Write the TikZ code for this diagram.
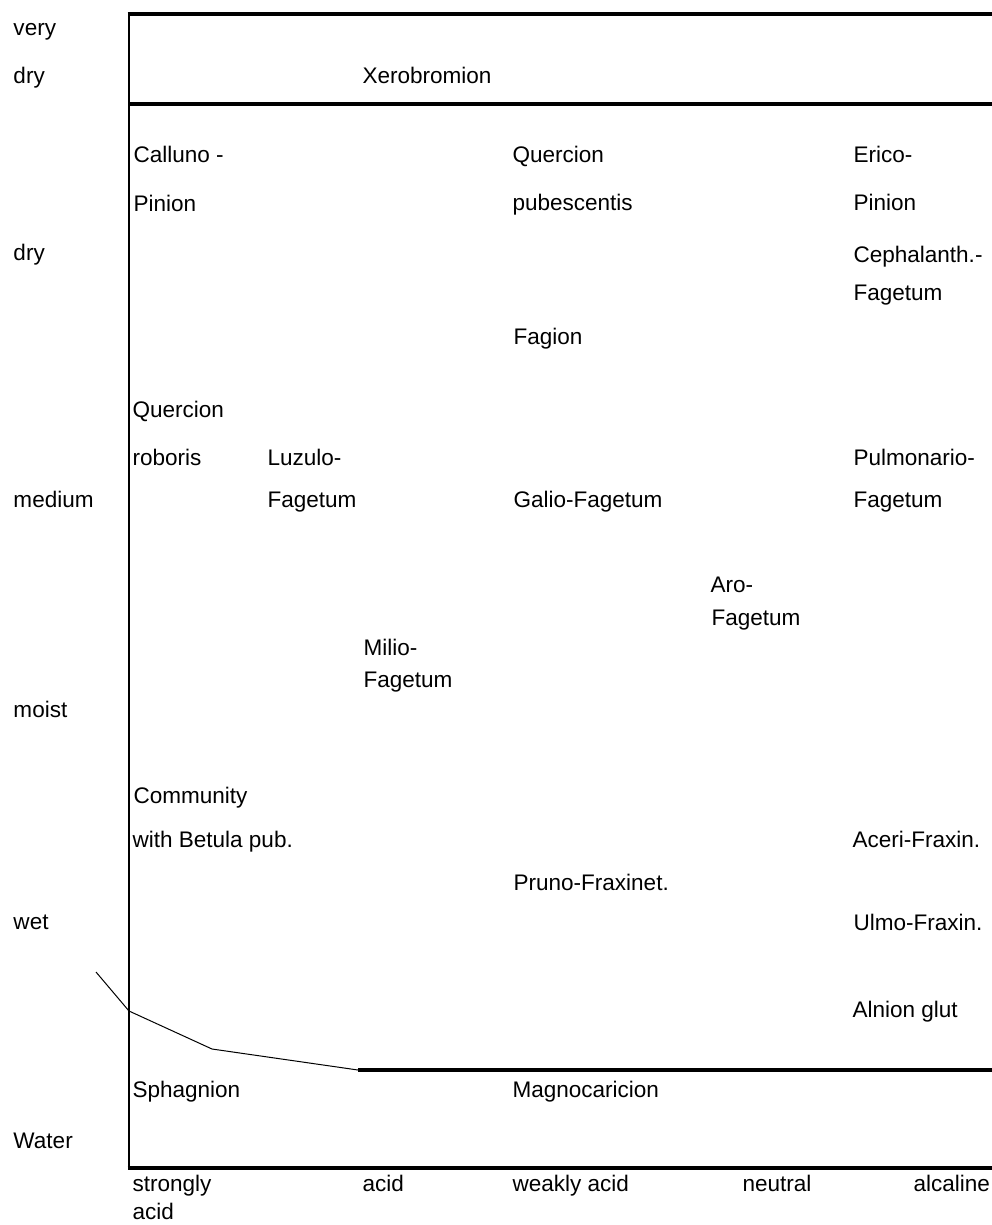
\documentclass[tikz,border=0pt]{standalone}
\usepackage{fontspec}
\setmainfont{Liberation Sans}
\tikzset{every picture/.style={line width=0.75pt}}
\tikzset{lbl/.style={anchor=base west,inner sep=0pt,font=\fontsize{16.9pt}{20pt}\selectfont},
  thickrule/.style={line width=3pt},
  axisrule/.style={line width=1.5pt}}

\begin{document}
\begin{tikzpicture}[x=0.75pt,y=0.75pt,yscale=-1,xscale=1]
\useasboundingbox (0,0) rectangle (992,1225);

%Straight Lines [frame]
\draw [axisrule]   (128.5,14) -- (128.5,1168) ;
\draw [thickrule]   (127.5,14) -- (992,14) ;
\draw [thickrule]   (128.5,103.5) -- (992,103.5) ;
\draw [thickrule]   (127.5,1167.5) -- (992,1167.5) ;

%Shape: Polyline [water limit]
\coordinate (wa) at (96,972) ;
\coordinate (wb) at (129,1011) ;
\coordinate (wc) at (212,1049) ;
\coordinate (wd) at (358,1070) ;
\coordinate (we) at (992,1070) ;
\draw    (wa) -- (wb) -- (wc) -- (wd) ;
\draw [thickrule]   (wd) -- (we) ;

% Text Node [moisture]
\node [lbl] (very) at (13,35) {very};
\node [lbl] (vdry) at (13,83) {dry};
\node [lbl] (dry) at (13,260) {dry};
\node [lbl] (medium) at (13,507) {medium};
\node [lbl] (moist) at (13,717) {moist};
\node [lbl] (wet) at (13,929) {wet};
\node [lbl] (water) at (13,1148) {Water};

% Text Node [acidity]
\node [lbl] (strongly) at (132,1191) {strongly};
\node [lbl] (stracid) at (132,1219) {acid};
\node [lbl] (acid) at (362,1191) {acid};
\node [lbl] (weakly) at (512,1191) {weakly acid};
\node [lbl] (neutral) at (742,1191) {neutral};
\node [lbl] (alcaline) at (913,1191) {alcaline};

% Text Node [communities]
\node [lbl] (xerob) at (362,83) {Xerobromion};
\node [lbl] (calluno) at (133,162) {Calluno -};
\node [lbl] (callunob) at (133,211) {Pinion};
\node [lbl] (qpub) at (512,162) {Quercion};
\node [lbl] (qpubb) at (512,210) {pubescentis};
\node [lbl] (erico) at (853,162) {Erico-};
\node [lbl] (ericob) at (853,210) {Pinion};
\node [lbl] (cephal) at (853,262) {Cephalanth.-};
\node [lbl] (cephalb) at (853,300) {Fagetum};
\node [lbl] (fagion) at (513,344) {Fagion};
\node [lbl] (qrob) at (132,417) {Quercion};
\node [lbl] (qrobb) at (132,465) {roboris};
\node [lbl] (luzulo) at (267,465) {Luzulo-};
\node [lbl] (luzulob) at (267,507) {Fagetum};
\node [lbl] (galio) at (513,507) {Galio-Fagetum};
\node [lbl] (pulmo) at (853,465) {Pulmonario-};
\node [lbl] (pulmob) at (853,507) {Fagetum};
\node [lbl] (aro) at (710,592) {Aro-};
\node [lbl] (arob) at (711,625) {Fagetum};
\node [lbl] (milio) at (363,655) {Milio-};
\node [lbl] (miliob) at (363,687) {Fagetum};
\node [lbl] (commun) at (133,803) {Community};
\node [lbl] (communb) at (132,847) {with Betula pub.};
\node [lbl] (aceri) at (852,847) {Aceri-Fraxin.};
\node [lbl] (pruno) at (513,890) {Pruno-Fraxinet.};
\node [lbl] (ulmo) at (853,930) {Ulmo-Fraxin.};
\node [lbl] (alnion) at (852,1017) {Alnion glut};
\node [lbl] (sphag) at (132,1097) {Sphagnion};
\node [lbl] (magno) at (512,1097) {Magnocaricion};

\end{tikzpicture}
\end{document}
